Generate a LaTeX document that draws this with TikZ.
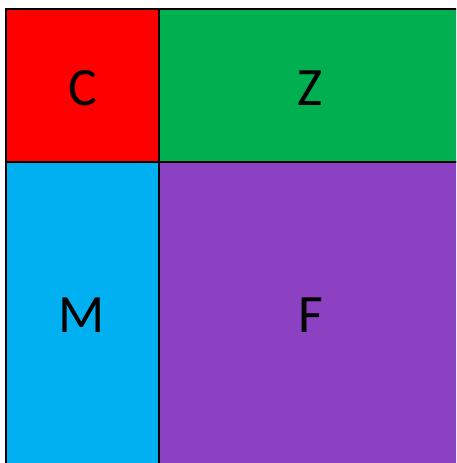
\documentclass[tikz,border=0pt]{standalone}
\usepackage{fontspec}
\setmainfont{Carlito}
\definecolor{cred}{RGB}{255,0,0}
\definecolor{cgreen}{RGB}{0,176,80}
\definecolor{cblue}{RGB}{0,176,240}
\definecolor{cpurple}{RGB}{140,64,194}
\begin{document}
\begin{tikzpicture}[x=1pt,y=1pt,
  cell/.style={draw=black,line width=1.6pt,rectangle,inner sep=0pt,anchor=north west},
  lbl/.style={anchor=base,font=\fontsize{54}{60}\selectfont,inner sep=0pt}]
\useasboundingbox (0,0) rectangle (456,463);
\clip (0,0) rectangle (456,463);
\fill[white] (0,0) rectangle (456,463);
\node[cell,fill=cred,minimum width=153pt,minimum height=153pt] (c) at (5,455) {};
\node[cell,fill=cgreen,minimum width=312pt,minimum height=153pt] (z) at (158,455) {};
\node[cell,fill=cblue,minimum width=153pt,minimum height=320pt] (m) at (5,302) {};
\node[cell,fill=cpurple,minimum width=312pt,minimum height=320pt] (f) at (158,302) {};
\node[lbl] (tc) at (82.5,357) {C};
\node[lbl] (tz) at (310,357) {Z};
\node[lbl] (tm) at (82,130) {M};
\node[lbl] (tf) at (311,130) {F};
\end{tikzpicture}
\end{document}
